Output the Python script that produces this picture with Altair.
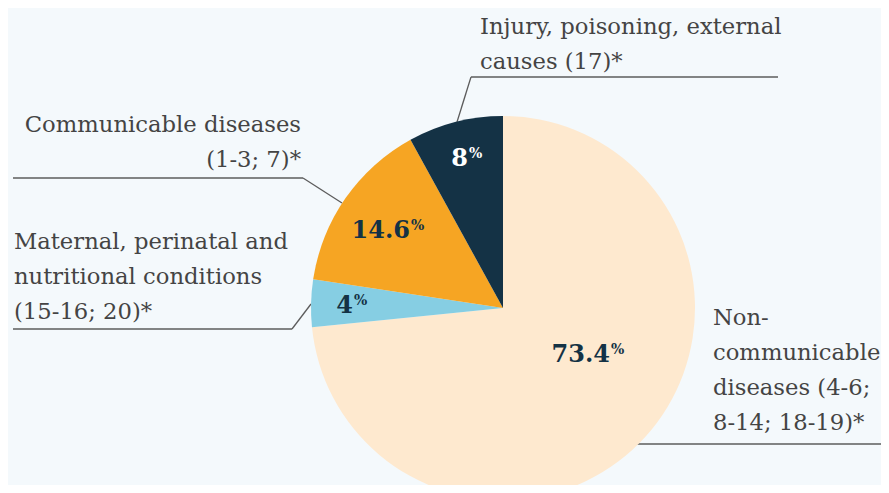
import altair as alt
import pandas as pd

# ---- data ----
categories = [
    "Non-communicable diseases",
    "Maternal, perinatal and nutritional conditions",
    "Communicable diseases",
    "Injury, poisoning, external causes",
]
values = [73.4, 4.0, 14.6, 8.0]
value_labels = ["73.4", "4", "14.6", "8"]
label_texts = [
    "Non-\ncommunicable\ndiseases (4-6;\n8-14; 18-19)*",
    "Maternal, perinatal and\nnutritional conditions\n(15-16; 20)*",
    "Communicable diseases\n(1-3; 7)*",
    "Injury, poisoning, external\ncauses (17)*",
]

# ---- styles / layout ----
slice_colors = ["#FEE9CF", "#86CEE3", "#F6A523", "#143245"]
number_colors = ["#143245", "#143245", "#143245", "#FFFFFF"]
bg = "#F4F9FC"
W, H = 873, 477
CX, CY, R = 495, 300, 192

# number anchor positions (chart px): numbers right-aligned, "%" left-aligned
num_x = [602, 345, 402, 460]
num_y = [354, 305, 230, 158]
# category label positions
lab_x = [705, 6, 293, 472]
lab_y = [317, 241, 124, 26]
lab_align = ["left", "left", "right", "left"]
# leader line segments
seg_x1 = [629, 5, 284, 5, 295, 463, 463]
seg_y1 = [436, 321, 321, 170, 170, 69, 69]
seg_x2 = [875, 284, 303, 295, 334, 770, 449]
seg_y2 = [436, 321, 296, 170, 195, 69, 114]

df = pd.DataFrame({
    "category": categories,
    "value": values,
    "order": list(range(len(categories))),
})

arc = alt.Chart(df).mark_arc(radius=R).encode(
    theta=alt.Theta("value:Q", stack=True),
    color=alt.Color("category:N", scale=alt.Scale(domain=categories, range=slice_colors), legend=None),
    order=alt.Order("order:Q", sort="ascending"),
    x=alt.value(CX),
    y=alt.value(CY),
)

seg_df = pd.DataFrame({"x1": seg_x1, "y1": seg_y1, "x2": seg_x2, "y2": seg_y2})
rules = alt.Chart(seg_df).mark_rule(color="#5c5c5c", strokeWidth=1.3).encode(
    x=alt.X("x1:Q", scale=None, axis=None),
    y=alt.Y("y1:Q", scale=None, axis=None),
    x2="x2:Q",
    y2="y2:Q",
)

num_df = pd.DataFrame({
    "label": value_labels,
    "x": num_x,
    "y": num_y,
    "c": number_colors,
})
nums = alt.Chart(num_df).mark_text(
    font="DejaVu Serif", fontWeight="bold", fontSize=24, align="right", baseline="alphabetic"
).encode(
    x=alt.X("x:Q", scale=None, axis=None),
    y=alt.Y("y:Q", scale=None, axis=None),
    text="label:N",
    color=alt.Color("c:N", scale=None),
)
pcts = alt.Chart(num_df).mark_text(
    font="DejaVu Serif", fontWeight="bold", fontSize=14, align="left", baseline="alphabetic", dx=1, dy=-8
).encode(
    x=alt.X("x:Q", scale=None, axis=None),
    y=alt.Y("y:Q", scale=None, axis=None),
    text=alt.value("%"),
    color=alt.Color("c:N", scale=None),
)

lab_df = pd.DataFrame({"text": label_texts, "x": lab_x, "y": lab_y, "align": lab_align})
layers = []
for al in ["left", "right"]:
    layers.append(
        alt.Chart(lab_df).transform_filter(alt.datum.align == al).mark_text(
            font="DejaVu Serif", fontSize=22.7, align=al, baseline="alphabetic",
            lineBreak="\n", lineHeight=35, color="#444444"
        ).encode(
            x=alt.X("x:Q", scale=None, axis=None),
            y=alt.Y("y:Q", scale=None, axis=None),
            text="text:N",
        )
    )

chart = alt.layer(rules, arc, nums, pcts, *layers).properties(
    width=W, height=H, autosize=alt.AutoSizeParams(type="none"), padding=0, background=bg
).configure_view(strokeWidth=0)

chart.save("out.html", embed_options={"renderer": "svg", "actions": False})
